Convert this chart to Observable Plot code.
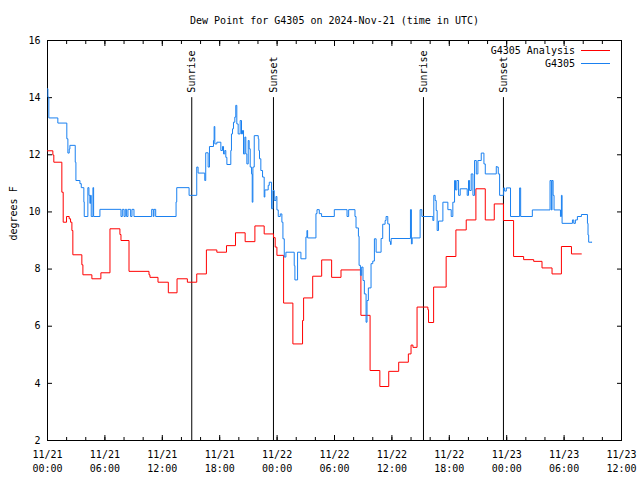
<!DOCTYPE html>
<html>
<head>
<meta charset="utf-8">
<script src="https://cdn.jsdelivr.net/npm/d3@7"></script>
<script src="https://cdn.jsdelivr.net/npm/@observablehq/plot@0.6"></script>
<style>
  html, body { margin: 0; padding: 0; background: #fff; }
  #chart { position: relative; width: 640px; height: 480px; }
</style>
</head>
<body>
<div id="chart"></div>
<script>
// ---- data (hours since 2024-11-21 00:00 UTC) ----
const titleText = "Dew Point for G4305 on 2024-Nov-21 (time in UTC)";
const yLabel = "degrees F";
const seriesNames = ["G4305 Analysis", "G4305"];
const seriesColors = ["#ff0000", "#1a80f0"];

const analysisHours = [0, 0.56, 0.66, 1.50, 1.64, 1.99, 2.27, 2.41, 2.55, 2.65, 3.59, 3.70, 4.64, 5.58, 6.53, 7.57, 7.68, 8.52, 10.61, 10.71, 11.55, 12.63, 13.54, 14.62, 15.6, 16.61, 17.7, 18.71, 19.65, 20.66, 21.68, 22.65, 23.63, 23.8, 23.98, 24.68, 25.65, 26.66, 26.77, 27.72, 28.66, 29.7, 30.68, 32.76, 33.72, 34.74, 35.67, 36.71, 37.72, 38.0, 38.2, 38.63, 39.76, 39.83, 40.36, 41.67, 42.69, 43.77, 44.78, 45.76, 46.7, 47.67, 48.72, 49.77, 50.82, 51.69, 52.74, 53.72, 54.77, 55.81];
const analysisValues = [12.14, 11.99, 11.74, 10.69, 9.64, 9.84, 9.76, 9.64, 9.35, 8.50, 8.15, 7.80, 7.66, 7.87, 9.41, 9.21, 9.00, 7.92, 7.80, 7.71, 7.54, 7.17, 7.66, 7.54, 7.83, 8.67, 8.59, 8.82, 9.27, 8.96, 9.51, 9.23, 9.10, 8.77, 8.48, 6.81, 5.38, 6.20, 6.99, 7.75, 8.32, 7.71, 7.97, 6.38, 4.45, 3.89, 4.42, 4.74, 5.03, 5.34, 5.26, 6.67, 6.58, 6.13, 7.37, 8.44, 9.37, 9.72, 10.81, 9.72, 10.28, 9.70, 8.44, 8.33, 8.27, 8.04, 7.83, 8.79, 8.53, 8.53];

const stationHours = [0, 0.04, 0.14, 1.08, 2.02, 2.13, 2.27, 2.34, 2.9, 2.97, 3.39, 3.53, 3.8, 3.84, 4.22, 4.33, 4.43, 4.5, 4.57, 4.75, 4.82, 5.48, 7.68, 7.82, 8.0, 8.13, 8.27, 8.41, 8.69, 8.83, 9.04, 10.89, 11.06, 11.13, 11.31, 13.44, 13.51, 14.8, 15.6, 15.74, 16.44, 16.54, 16.79, 16.93, 17.35, 17.42, 17.49, 17.7, 18.12, 18.29, 18.4, 18.53, 18.64, 18.75, 19.16, 19.23, 19.34, 19.44, 19.58, 19.68, 19.79, 19.93, 20.14, 20.28, 20.38, 20.49, 20.63, 20.73, 20.84, 20.98, 21.08, 21.19, 21.33, 21.4, 21.47, 21.61, 22.03, 22.09, 22.16, 22.3, 22.48, 22.65, 22.72, 23.07, 23.18, 23.42, 23.56, 23.7, 23.88, 23.98, 24.12, 24.33, 24.5, 24.61, 24.75, 24.92, 25.79, 25.86, 26.14, 26.49, 27.01, 27.12, 27.19, 28.06, 28.17, 28.41, 28.65, 29.98, 31.31, 31.48, 32.14, 32.25, 32.5, 32.57, 32.71, 32.84, 32.98, 33.12, 33.3, 33.4, 33.54, 33.82, 34.0, 34.17, 34.35, 34.87, 35.04, 35.29, 35.39, 35.57, 35.74, 35.85, 35.92, 37.94, 38.04, 38.12, 38.26, 38.95, 39.13, 40.17, 40.28, 40.38, 40.52, 40.63, 40.73, 40.87, 41.33, 41.85, 42.2, 42.37, 42.55, 42.65, 42.79, 42.97, 43.14, 43.87, 44.01, 44.12, 44.29, 44.47, 44.64, 44.82, 44.99, 45.34, 45.62, 45.76, 46.91, 46.99, 47.12, 47.26, 47.68, 47.78, 47.96, 48.4, 49.35, 49.46, 50.68, 52.53, 52.67, 52.74, 52.85, 52.95, 53.62, 53.72, 53.79, 54.87, 55.01, 55.18, 55.39, 55.81, 56.44, 56.5, 56.57, 56.92];
const stationValues = [14.31, 14.02, 13.29, 13.11, 12.56, 12.06, 12.2, 12.33, 11.74, 11.1, 10.99, 10.85, 10.35, 9.84, 10.85, 10.58, 10.3, 10.58, 9.84, 10.85, 9.84, 10.09, 9.84, 10.09, 9.84, 10.09, 9.84, 10.09, 9.84, 10.09, 9.84, 10.09, 9.84, 10.09, 9.84, 10.35, 10.85, 10.58, 11.57, 11.36, 11.1, 12.07, 11.57, 12.29, 12.5, 12.99, 12.38, 12.44, 12.15, 12.29, 12.03, 12.15, 11.91, 11.66, 12.15, 12.73, 12.91, 13.14, 13.32, 13.73, 13.08, 12.73, 13.2, 12.73, 12.85, 12.03, 12.62, 12.03, 11.68, 12.5, 12.21, 11.57, 11.33, 10.34, 11.57, 12.67, 12.56, 12.15, 11.86, 11.45, 11.22, 10.52, 10.77, 10.93, 11.04, 10.11, 10.75, 10.4, 10.54, 10.07, 9.84, 9.93, 9.64, 9.06, 8.42, 8.59, 8.12, 7.62, 8.59, 8.36, 9.12, 9.35, 9.09, 9.94, 10.08, 9.94, 9.84, 10.08, 9.84, 10.08, 9.84, 9.44, 9.15, 8.13, 7.78, 8.07, 7.6, 7.13, 6.14, 6.9, 7.34, 8.19, 8.28, 9.06, 8.59, 9.07, 9.57, 9.7, 9.84, 9.58, 8.97, 8.86, 9.07, 10.08, 8.88, 9.09, 9.09, 10.08, 9.84, 9.84, 9.7, 10.58, 10.4, 10.05, 9.35, 9.68, 10.34, 10.08, 9.84, 10.34, 11.1, 10.77, 11.1, 10.58, 10.81, 10.58, 11.1, 10.75, 11.33, 10.58, 11.8, 11.33, 11.8, 12.06, 11.68, 11.33, 11.59, 11.57, 11.33, 10.58, 10.84, 10.73, 10.84, 9.84, 10.84, 9.84, 10.07, 11.1, 10.07, 11.1, 10.58, 10.07, 9.84, 10.58, 9.6, 9.72, 9.6, 9.72, 9.84, 9.91, 9.6, 9.19, 8.94, 8.94];

const eventLabels = ["Sunrise", "Sunset", "Sunrise", "Sunset"];
const eventHours = [15.08, 23.62, 39.3, 47.66];
const eventTop = 14;

const yTicks = [2, 4, 6, 8, 10, 12, 14, 16];
const majorTickHours = [0, 6, 12, 18, 24, 30, 36, 42, 48, 54, 60];
const minorTickHours = d3.range(0, 61, 2);

// ---- build tables ----
const t0 = Date.UTC(2024, 10, 21);
const toDate = h => new Date(t0 + h * 3600000);
const analysis = analysisHours.map((h, i) => ({time: toDate(h), value: analysisValues[i]}));
const station = stationHours.map((h, i) => ({time: toDate(h), value: stationValues[i]}));
const events = eventHours.map((h, i) => ({time: toDate(h), label: eventLabels[i]}));
const majorTicks = majorTickHours.map(toDate);
const minorTicks = minorTickHours.map(toDate);
const fmt = d3.utcFormat("%m/%d\n%H:%M");

const font = "DejaVu Sans Mono";

const chart = Plot.plot({
  width: 640,
  height: 480,
  marginLeft: 47,
  marginRight: 19,
  marginTop: 40,
  marginBottom: 40,
  style: {fontFamily: font, fontSize: "10px", background: "white", color: "black"},
  x: {type: "utc", domain: [toDate(0), toDate(60)]},
  y: {domain: [2, 16]},
  marks: [
    // axes: inward ticks (major + minor, mirrored) and labels
    Plot.axisX(minorTicks, {anchor: "bottom", tickSize: -3, fill: "none", label: null}),
    Plot.axisX(minorTicks, {anchor: "top", tickSize: -3, fill: "none", label: null}),
    Plot.axisX(majorTicks, {anchor: "bottom", tickSize: -5, fill: "none", label: null}),
    Plot.axisX(majorTicks, {anchor: "top", tickSize: -5, fill: "none", label: null}),
    Plot.axisX(majorTicks, {anchor: "bottom", tickSize: 0, tickPadding: 8, tickFormat: fmt, lineHeight: 1.4, fontSize: 10, label: null}),
    Plot.axisY(yTicks, {anchor: "left", tickSize: -5, fill: "none", label: null}),
    Plot.axisY(yTicks, {anchor: "right", tickSize: -5, fill: "none", label: null}),
    Plot.axisY(yTicks, {anchor: "left", tickSize: 0, tickPadding: 7, fontSize: 10, label: null}),
    Plot.frame({stroke: "black"}),
    // sunrise / sunset markers
    Plot.ruleX(events, {x: "time", y1: eventTop, y2: 2, stroke: "black", strokeWidth: 1}),
    Plot.text(events, {x: "time", y: eventTop, text: "label", rotate: -90, textAnchor: "start", dy: -5, fill: "black", fontSize: 10}),
    // series
    Plot.line(analysis, {x: "time", y: "value", curve: "step-after", stroke: seriesColors[0], strokeWidth: 1}),
    Plot.line(station, {x: "time", y: "value", curve: "step-after", stroke: seriesColors[1], strokeWidth: 1}),
    // title & y label
    Plot.text([titleText], {frameAnchor: "top", lineAnchor: "middle", dy: -20, fontSize: 10, fill: "black"}),
    Plot.text([yLabel], {frameAnchor: "left", dx: -34, rotate: -90, fontSize: 10, fill: "black"})
  ]
});

document.getElementById("chart").appendChild(chart);

// legend (top-right inside frame)
const svg = d3.select(chart);
const lg = svg.append("g").attr("font-family", font).attr("font-size", 10);
seriesNames.forEach((name, i) => {
  const y = 50 + i * 13;
  lg.append("text").attr("x", 575).attr("y", y).attr("dy", "0.35em")
    .attr("text-anchor", "end").attr("fill", "black").text(name);
  lg.append("line").attr("x1", 581).attr("x2", 610).attr("y1", y + 0.5).attr("y2", y + 0.5)
    .attr("stroke", seriesColors[i]).attr("stroke-width", 1);
});
</script>
</body>
</html>
